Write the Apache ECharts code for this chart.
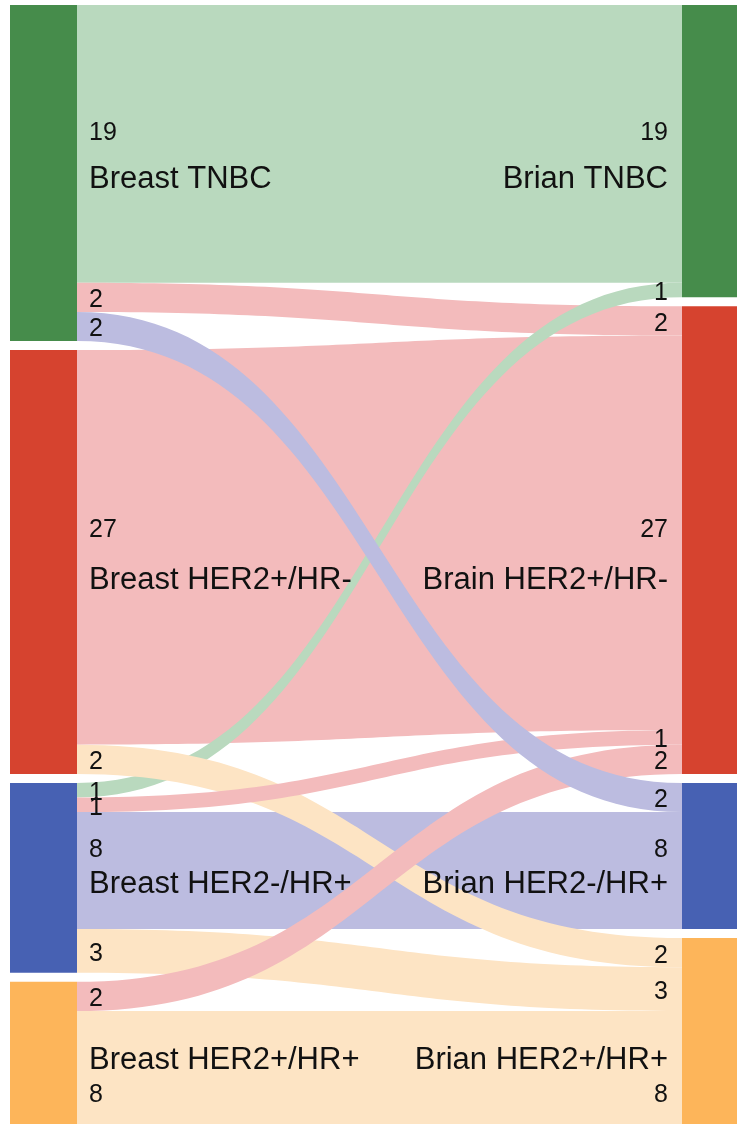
<!DOCTYPE html>
<html>
<head>
<meta charset="utf-8">
<script src="https://cdn.jsdelivr.net/npm/echarts@6/dist/echarts.min.js"></script>
<style>
  html, body { margin: 0; padding: 0; background: #fff; }
  #main { width: 737px; height: 1124px; }
</style>
</head>
<body>
<div id="main"></div>
<script>
// left column = breast primary, right column = brain metastasis (names kept as in the figure)
var breastNodes = ['Breast TNBC', 'Breast HER2+/HR-', 'Breast HER2-/HR+', 'Breast HER2+/HR+'];
var brainNodes = ['Brian TNBC', 'Brain HER2+/HR-', 'Brian HER2-/HR+', 'Brian HER2+/HR+'];

// flows, listed in drawing order (later ones end up on top)
var linkSource = [0, 1, 2, 3, 0, 2, 1, 2, 2, 3, 0];
var linkTarget = [0, 1, 2, 3, 1, 0, 3, 3, 1, 1, 2];
var linkValue = [19, 27, 8, 8, 2, 1, 2, 3, 1, 2, 2];

var nodeColors = ['#468c4b', '#d6432f', '#4761b3', '#fdb55a'];
var flowColors = ['#b9d9be', '#f3bbbc', '#bcbce0', '#fde4c4'];

// vertical shift of [value, name] labels on the big same-subtype flows
var mainLabelShift = [[-14, 33], [-20, 30], [-23, 11], [23, -12]];

var fontFamily = '"Liberation Sans", Arial, sans-serif';
var valueSize = 25;
var nameSize = 31;
var nudge = 3; // text middle sits a bit high, push it down

var nodes = [];
breastNodes.forEach(function (n, i) {
  nodes.push({ name: n, itemStyle: { color: nodeColors[i] } });
});
brainNodes.forEach(function (n, i) {
  nodes.push({ name: n, itemStyle: { color: nodeColors[i] } });
});

var links = linkValue.map(function (v, i) {
  return {
    source: breastNodes[linkSource[i]],
    target: brainNodes[linkTarget[i]],
    value: v,
    lineStyle: { color: flowColors[linkTarget[i]], opacity: 1 }
  };
});

var myChart = echarts.init(document.getElementById('main'));

myChart.setOption({
  animation: false,
  series: [{
    type: 'sankey',
    left: 10,
    right: -12,
    top: 5,
    bottom: -4,
    nodeWidth: 67,
    nodeGap: 9,
    layoutIterations: 0,
    draggable: false,
    emphasis: { disabled: true },
    label: { show: false },
    itemStyle: { borderWidth: 0 },
    lineStyle: { curveness: 0.5, opacity: 1 },
    data: nodes,
    links: links
  }]
});

// value / name labels placed from the sankey layout
var series = myChart.getModel().getSeriesByIndex(0);
var box = series.layoutInfo || { x: 10, y: 5 };
var texts = [];

function addText(x, y, text, size, align) {
  texts.push({
    type: 'text',
    x: x,
    y: y + nudge,
    z: 100,
    silent: true,
    style: {
      text: text,
      fontSize: size,
      fontFamily: fontFamily,
      fill: '#111',
      align: align,
      verticalAlign: 'middle',
      textAlign: align,
      textVerticalAlign: 'middle'
    }
  });
}

series.getGraph().eachEdge(function (edge) {
  var e = edge.getLayout();
  var n1 = edge.node1.getLayout();
  var n2 = edge.node2.getLayout();
  var i = edge.dataIndex;
  var lx = box.x + n1.x + n1.dx + 12;
  var rx = box.x + n2.x - 14;
  var ly = box.y + n1.y + e.sy + e.dy / 2;
  var ry = box.y + n2.y + e.ty + e.dy / 2;
  if (linkSource[i] === linkTarget[i]) {
    var s = mainLabelShift[linkSource[i]];
    addText(lx, ly + s[0], String(linkValue[i]), valueSize, 'left');
    addText(lx, ly + s[1], breastNodes[linkSource[i]], nameSize, 'left');
    addText(rx, ly + s[0], String(linkValue[i]), valueSize, 'right');
    addText(rx, ly + s[1], brainNodes[linkTarget[i]], nameSize, 'right');
  } else {
    addText(lx, ly, String(linkValue[i]), valueSize, 'left');
    addText(rx, ry, String(linkValue[i]), valueSize, 'right');
  }
});

myChart.setOption({ graphic: { elements: texts } });
</script>
</body>
</html>
